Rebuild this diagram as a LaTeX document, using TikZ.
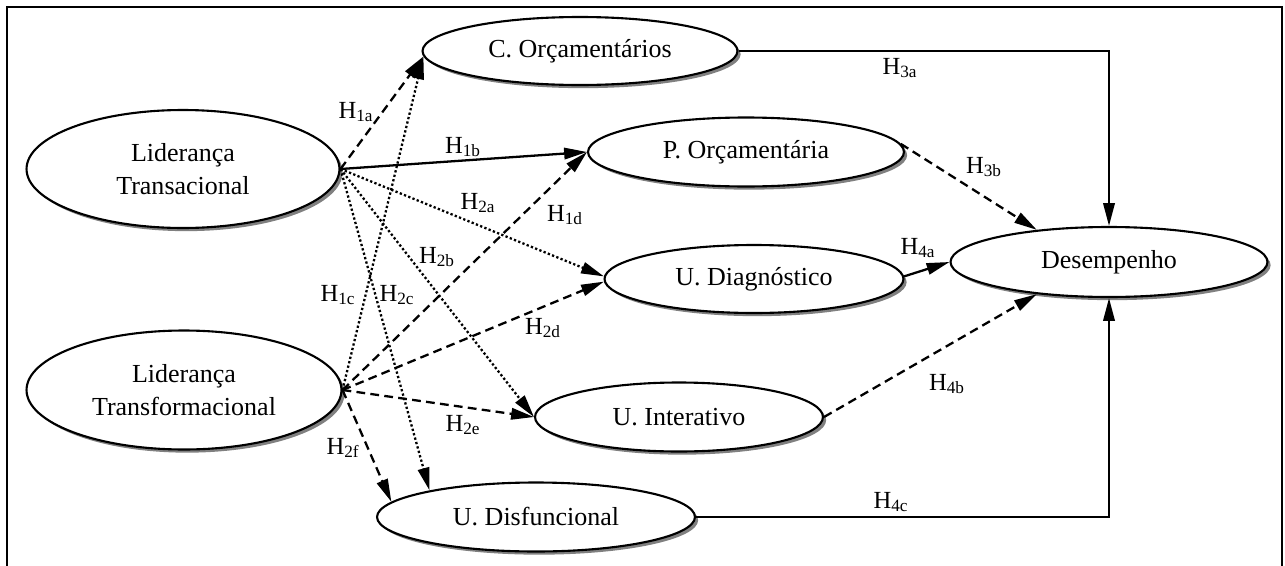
\documentclass[tikz,border=0pt]{standalone}
\usepackage{fontspec}
\setmainfont{Liberation Serif}
\usepackage{tikz}
\usetikzlibrary{arrows.meta}
\usetikzlibrary{shapes.geometric}
\usetikzlibrary{shadows}
\tikzstyle{var}=[ellipse,draw,line width=1.2pt,fill=white,align=center,inner sep=0pt,
font=\fontsize{14.8}{19}\selectfont,
drop shadow={shadow xshift=1.8pt,shadow yshift=-1.8pt,fill=gray,opacity=1}]
\tikzstyle{hyp}=[inner sep=1pt,font=\fontsize{14}{16}\selectfont]
\tikzstyle{arr}=[line width=1.3pt,-{Triangle[length=13pt,width=6.5pt]}]
\tikzstyle{hsolid}=[arr]
\tikzstyle{hdash}=[arr,dash pattern=on 5pt off 3pt]
\tikzstyle{hdot}=[arr,dash pattern=on 1.3pt off 1.3pt]

\begin{document}
\begin{tikzpicture}[x=0.02cm,y=-0.02cm]
	\useasboundingbox (0,0) rectangle (1285,565);
	\draw[line width=1.1pt] (7,7) rectangle (1282,568);

	\node[var, minimum width=6.26cm, minimum height=2.36cm] (trans) at (183,169) {Liderança\\Transacional};
	\node[var, minimum width=6.3cm, minimum height=2.38cm] (transf) at (184,390) {Liderança\\Transformacional};

	\node[var, minimum width=6.3cm, minimum height=1.36cm] (corc) at (580,51) {C. Orçamentários};
	\node[var, minimum width=6.32cm, minimum height=1.38cm] (porc) at (746,152) {P. Orçamentária};
	\node[var, minimum width=5.98cm, minimum height=1.36cm] (udiag) at (754,279) {U. Diagnóstico};
	\node[var, minimum width=5.76cm, minimum height=1.38cm] (uint) at (679,417) {U. Interativo};
	\node[var, minimum width=6.36cm, minimum height=1.38cm] (udisf) at (536,517) {U. Disfuncional};

	\node[var, minimum width=6.34cm, minimum height=1.4cm] (desemp) at (1109,262) {Desempenho};

	% lideranca transacional
	\path[draw,hdash] (trans.east) -- (corc.182);
	\path[draw,hsolid] (trans.east) -- (porc.west);
	\path[draw,hdot] (trans.east) -- (udiag.179);
	\path[draw,hdot] (trans.east) -- (uint.west);
	\path[draw,hdot] (trans.east) -- (udisf.166);

	% lideranca transformacional
	\path[draw,hdot] (transf.east) -- (corc.182);
	\path[draw,hdash] (transf.east) -- (porc.west);
	\path[draw,hdash] (transf.east) -- (udiag.181);
	\path[draw,hdash] (transf.east) -- (uint.west);
	\path[draw,hdash] (transf.east) -- (udisf.174);

	% desempenho
	\path[draw,hsolid] (corc.east) -| (desemp.north);
	\path[draw,hdash] (porc.3) -- (desemp.156);
	\path[draw,hsolid] (udiag.1) -- (desemp.west);
	\path[draw,hdash] (uint.east) -- (desemp.204);
	\path[draw,hsolid] (udisf.east) -| (desemp.south);

	\node[hyp] (l1a) at (356,112) {H\textsubscript{1a}};
	\node[hyp] (l1b) at (463,147) {H\textsubscript{1b}};
	\node[hyp] (l1c) at (338,295) {H\textsubscript{1c}};
	\node[hyp] (l1d) at (565,215) {H\textsubscript{1d}};
	\node[hyp] (l2a) at (478,203) {H\textsubscript{2a}};
	\node[hyp] (l2b) at (437,257) {H\textsubscript{2b}};
	\node[hyp] (l2c) at (397,295) {H\textsubscript{2c}};
	\node[hyp] (l2d) at (543,328) {H\textsubscript{2d}};
	\node[hyp] (l2e) at (463,425) {H\textsubscript{2e}};
	\node[hyp] (l2f) at (343,448) {H\textsubscript{2f}};
	\node[hyp] (l3a) at (900,68) {H\textsubscript{3a}};
	\node[hyp] (l3b) at (984,167) {H\textsubscript{3b}};
	\node[hyp] (l4a) at (918,248) {H\textsubscript{4a}};
	\node[hyp] (l4b) at (947,384) {H\textsubscript{4b}};
	\node[hyp] (l4c) at (891,502) {H\textsubscript{4c}};
\end{tikzpicture}
\end{document}
